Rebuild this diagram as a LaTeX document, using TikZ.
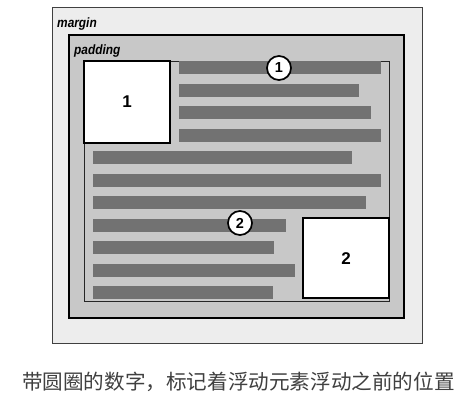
\documentclass[tikz,border=0pt]{standalone}
\usepackage{fontspec}
\setmainfont{Liberation Sans}
\newfontfamily\cjk{Noto Sans CJK SC}
\definecolor{marginbg}{HTML}{EDEDED}
\definecolor{padbg}{HTML}{C8C8C8}
\definecolor{barc}{HTML}{727272}
\definecolor{capc}{HTML}{404040}
\tikzset{
  bar/.style={fill=barc, draw=none},
  boxlabel/.style={font=\bfseries\fontsize{17}{17}\selectfont, inner sep=0pt},
  areaname/.style={font=\bfseries\itshape\fontsize{13.5}{13.5}\selectfont, inner sep=0pt, anchor=base west},
  circnum/.style={circle, draw=black, line width=1.7pt, fill=white, minimum size=24pt, inner sep=0pt, font=\bfseries\fontsize{14.5}{14.5}\selectfont},
}
\begin{document}
\begin{tikzpicture}[x=1pt,y=-1pt]
\useasboundingbox (0,0) rectangle (471,413);
\fill[white] (0,0) rectangle (471,413);
% margin box
\draw[fill=marginbg, draw=black!75, line width=1pt] (52,7) rectangle (422,343);
% border box
\draw[fill=padbg, draw=black, line width=2pt] (69,35) rectangle (404,318);
% content box
\draw[draw=black!85, line width=1pt] (84,61) rectangle (389,301);
% text bars
\foreach \t/\a/\b in {61/179/381, 83.5/179/359, 106/179/371, 128.5/179/381,
  151/93/352, 173.5/93/381, 196/93/366, 218.5/93/286, 241/93/274, 263.5/93/295, 286/93/273}
  \fill[bar] (\a,\t) rectangle (\b,\t+13);
% floats
\draw[fill=white, line width=1.6pt] (84,61) rectangle (170,143);
\node[boxlabel] (one) at (127,102) {1};
\draw[fill=white, line width=1.6pt] (303,218) rectangle (389,298);
\node[boxlabel] (two) at (346,259) {2};
% labels
\node[areaname] (margin) at (57,27) {\scalebox{0.88}[1]{margin}};
\node[areaname] (padding) at (74,54) {\scalebox{0.88}[1]{padding}};
% circled numbers
\node[circnum] (c1) at (279,68) {1};
\node[circnum] (c2) at (240,223) {2};
% caption
\node[inner sep=0pt, text=capc, font=\cjk\fontsize{20.6}{22}\selectfont] (cap) at (238.5,382) {带圆圈的数字，标记着浮动元素浮动之前的位置};
\end{tikzpicture}
\end{document}
